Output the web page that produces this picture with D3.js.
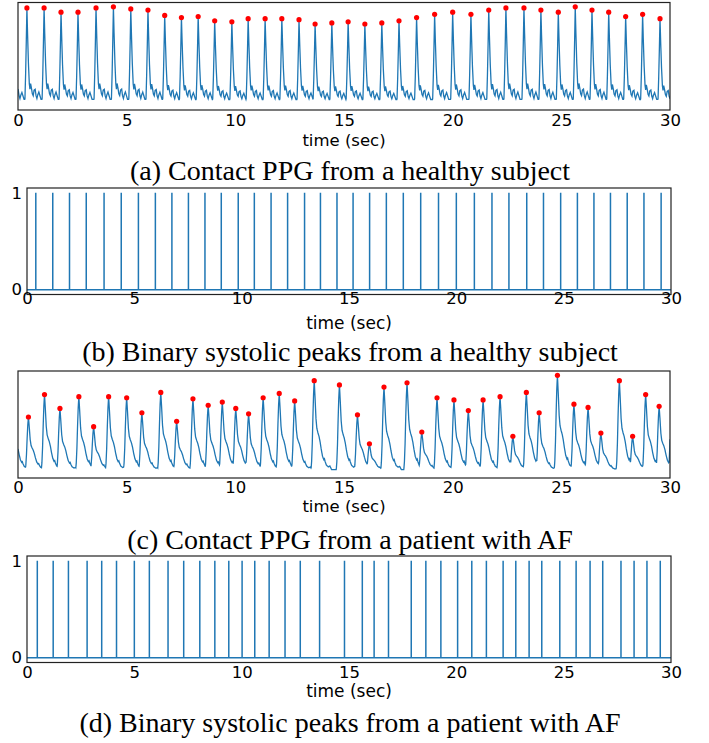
<!DOCTYPE html>
<html>
<head>
<meta charset="utf-8">
<script src="https://cdn.jsdelivr.net/npm/d3@7"></script>
<style>
  body { margin: 0; background: #fff; }
  .tick text { font-family: "DejaVu Sans", sans-serif; fill: #000; }
  .xlab { font-family: "DejaVu Sans", sans-serif; }
  .cap { font-family: "Liberation Serif", "Times New Roman", serif; }
</style>
</head>
<body>
<div id="chart"></div>
<script>
// x ticks shared by all four panels
const xTicks = [0, 5, 10, 15, 20, 25, 30]
const yTicksBinary = [0, 1]

// healthy subject: systolic peak times (s) and normalised peak heights
const healthyPeakTimes = [0.41, 1.20, 1.98, 2.76, 3.59, 4.39, 5.19, 5.98, 6.75, 7.52,
  8.29, 9.05, 9.84, 10.59, 11.37, 12.14, 12.93, 13.67, 14.44, 15.19,
  15.96, 16.74, 17.53, 18.34, 19.17, 20.00, 20.84, 21.66, 22.45, 23.28,
  24.06, 24.86, 25.64, 26.41, 27.18, 27.96, 28.74, 29.54]
const healthyPeakAmps = [0.95, 0.95, 0.91, 0.91, 0.95, 0.96, 0.94, 0.93, 0.88, 0.86,
  0.87, 0.83, 0.82, 0.85, 0.85, 0.85, 0.84, 0.80, 0.81, 0.82,
  0.80, 0.81, 0.83, 0.86, 0.89, 0.91, 0.89, 0.93, 0.95, 0.95,
  0.93, 0.91, 0.96, 0.93, 0.91, 0.87, 0.89, 0.85]
// beats just outside the window (start / end of the trace)
const healthyLead = [-0.37, 0.90]
const healthyTrail = [30.33, 0.86]
const healthyBase = 0.09
// one healthy pulse: [seconds after peak, fraction of height]
const healthyDecay = [[0, 1], [0.03, 0.72], [0.07, 0.40], [0.11, 0.18], [0.14, 0.12],
  [0.17, 0.18], [0.21, 0.13], [0.25, 0.07], [0.29, 0.05], [0.33, 0.11], [0.38, 0.12],
  [0.42, 0.05], [0.46, 0.02], [0.50, 0.06], [0.55, 0.09], [0.60, 0.05], [0.65, 0.01]]
// [seconds before peak, fraction of height]
const healthyRise = [[0, 1], [0.03, 0.62], [0.06, 0.28], [0.09, 0.02], [0.10, 0]]

// AF patient
const afPeakTimes = [0.48, 1.22, 1.93, 2.80, 3.48, 4.17, 5.00, 5.70, 6.57, 7.30,
  8.05, 8.75, 9.40, 10.02, 10.61, 11.28, 12.02, 12.73, 13.63, 14.79,
  15.62, 16.17, 16.84, 17.90, 18.58, 19.28, 20.06, 20.72, 21.40, 22.18,
  22.77, 23.39, 23.98, 24.82, 25.58, 26.23, 26.82, 27.67, 28.28, 28.88, 29.50]
const afPeakAmps = [0.57, 0.78, 0.65, 0.76, 0.48, 0.76, 0.75, 0.61, 0.80, 0.53,
  0.74, 0.68, 0.71, 0.65, 0.60, 0.75, 0.79, 0.72, 0.91, 0.87,
  0.59, 0.32, 0.85, 0.89, 0.43, 0.75, 0.73, 0.63, 0.73, 0.76,
  0.39, 0.80, 0.61, 0.96, 0.69, 0.66, 0.42, 0.91, 0.39, 0.78, 0.67]
const afLead = [-0.27, 0.70]
const afTrail = [30.08, 0.80]
const afBase = 0.07
const afDecay = [[0, 1], [0.04, 0.80], [0.08, 0.58], [0.12, 0.47], [0.17, 0.42],
  [0.22, 0.38], [0.27, 0.32], [0.32, 0.24], [0.38, 0.16], [0.44, 0.12], [0.47, 0.13],
  [0.50, 0.10], [0.56, 0.06], [0.65, 0.04], [0.72, 0.05], [0.80, 0.01]]
const afRise = [[0, 1], [0.03, 0.85], [0.06, 0.60], [0.09, 0.30], [0.12, 0.10], [0.15, 0]]

const captions = [
  "(a) Contact PPG from a healthy subject",
  "(b) Binary systolic peaks from a healthy subject",
  "(c) Contact PPG from a patient with AF",
  "(d) Binary systolic peaks from a patient with AF"
]

const blue = "#1f77b4"

const svg = d3.select("#chart").append("svg")
  .attr("width", 709)
  .attr("height", 743)

// build the PPG trace by placing the read pulse shape at every read peak
function buildTrace(times, amps, lead, trail, base, decay, rise) {
  const beats = [lead].concat(times.map((t, i) => [t, amps[i]]), [trail])
  const fDecay = d3.scaleLinear().domain(decay.map(d => d[0])).range(decay.map(d => d[1])).clamp(true)
  const fRise = d3.scaleLinear().domain(rise.map(d => d[0])).range(rise.map(d => d[1])).clamp(true)
  const riseDur = rise[rise.length - 1][0]
  const ts = d3.range(0, 3001).map(k => k / 100).concat(times).sort(d3.ascending)
  let i = 0
  return ts.map(t => {
    while (i < beats.length - 2 && beats[i + 1][0] <= t) i++
    const b0 = beats[i], b1 = beats[i + 1]
    let v = base + fDecay(t - b0[0]) * (b0[1] - base)
    const r = b1[0] - t
    if (r < riseDur) v = Math.max(v, base + fRise(r) * (b1[1] - base))
    return [t, v]
  })
}

function frame(g, box) {
  g.append("rect")
    .attr("x", box.x0).attr("y", box.y0)
    .attr("width", box.x1 - box.x0).attr("height", box.y1 - box.y0)
    .attr("fill", "none").attr("stroke", "#222").attr("stroke-width", 1.2)
}

function xAxis(g, x, box, tickY, fs, labY, labFs) {
  const ax = g.append("g")
    .attr("transform", `translate(0,${box.y1})`)
    .call(d3.axisBottom(x).tickValues(xTicks).tickSize(0).tickFormat(d3.format("d")))
  ax.select(".domain").remove()
  ax.selectAll("text").attr("dy", null).attr("y", tickY - box.y1).style("font-size", fs + "px")

  g.append("text").attr("class", "xlab")
    .attr("x", (box.x0 + box.x1) / 2).attr("y", labY)
    .attr("text-anchor", "middle").style("font-size", labFs + "px")
    .text("time (sec)")
}

function caption(g, text, y) {
  g.append("text").attr("class", "cap")
    .attr("x", 350).attr("y", y)
    .attr("text-anchor", "middle").style("font-size", "28px")
    .text(text)
}

function ppgPanel(id, box, times, amps, lead, trail, base, decay, rise, lay) {
  const g = svg.append("g")
  const x = d3.scaleLinear().domain([0, 30]).range([box.x0, box.x1])
  const y = d3.scaleLinear().domain([0, 1]).range([box.y1, box.y0])

  g.append("clipPath").attr("id", id)
    .append("rect").attr("x", box.x0).attr("y", box.y0)
    .attr("width", box.x1 - box.x0).attr("height", box.y1 - box.y0)

  const trace = buildTrace(times, amps, lead, trail, base, decay, rise)
  g.append("path")
    .attr("clip-path", `url(#${id})`)
    .attr("d", d3.line().x(d => x(d[0])).y(d => y(d[1]))(trace))
    .attr("fill", "none").attr("stroke", blue).attr("stroke-width", 1.3)

  g.selectAll("circle").data(times).enter().append("circle")
    .attr("cx", d => x(d))
    .attr("cy", (d, i) => y(amps[i]))
    .attr("r", 2.6)
    .attr("fill", "red")

  frame(g, box)
  xAxis(g, x, box, lay.tickY, 16.5, lay.labY, 16.5)
  caption(g, lay.cap, lay.capY)
}

function binaryPanel(box, times, lay) {
  const g = svg.append("g")
  const x = d3.scaleLinear().domain([0, 30]).range([box.x0, box.x1])
  const y = d3.scaleLinear().domain([-0.05, 1.05]).range([box.y1, box.y0])

  const pts = [[0, 0]]
  times.forEach(t => { pts.push([t, 0], [t, 1], [t, 0]) })
  pts.push([30, 0])
  g.append("path")
    .attr("d", d3.line().x(d => x(d[0])).y(d => y(d[1]))(pts))
    .attr("fill", "none").attr("stroke", blue).attr("stroke-width", 1.5)

  frame(g, box)

  const ay = g.append("g")
    .attr("transform", `translate(${box.x0},0)`)
    .call(d3.axisLeft(y).tickValues(yTicksBinary).tickSize(0).tickPadding(5).tickFormat(d3.format("d")))
  ay.select(".domain").remove()
  ay.selectAll("text").style("font-size", "16.5px")

  xAxis(g, x, box, lay.tickY, 16.5, lay.labY, 17)
  caption(g, lay.cap, lay.capY)
}

ppgPanel("clipA", {x0: 18, x1: 670, y0: 2.5, y1: 110},
  healthyPeakTimes, healthyPeakAmps, healthyLead, healthyTrail, healthyBase, healthyDecay, healthyRise,
  {tickY: 126, labY: 146, cap: captions[0], capY: 180})

binaryPanel({x0: 27, x1: 671, y0: 188, y1: 294.5}, healthyPeakTimes,
  {tickY: 304, labY: 329, cap: captions[1], capY: 361})

ppgPanel("clipC", {x0: 18, x1: 670, y0: 371, y1: 478},
  afPeakTimes, afPeakAmps, afLead, afTrail, afBase, afDecay, afRise,
  {tickY: 492.5, labY: 512, cap: captions[2], capY: 549})

binaryPanel({x0: 27, x1: 671, y0: 556, y1: 662.5}, afPeakTimes,
  {tickY: 678, labY: 697, cap: captions[3], capY: 732})
</script>
</body>
</html>
